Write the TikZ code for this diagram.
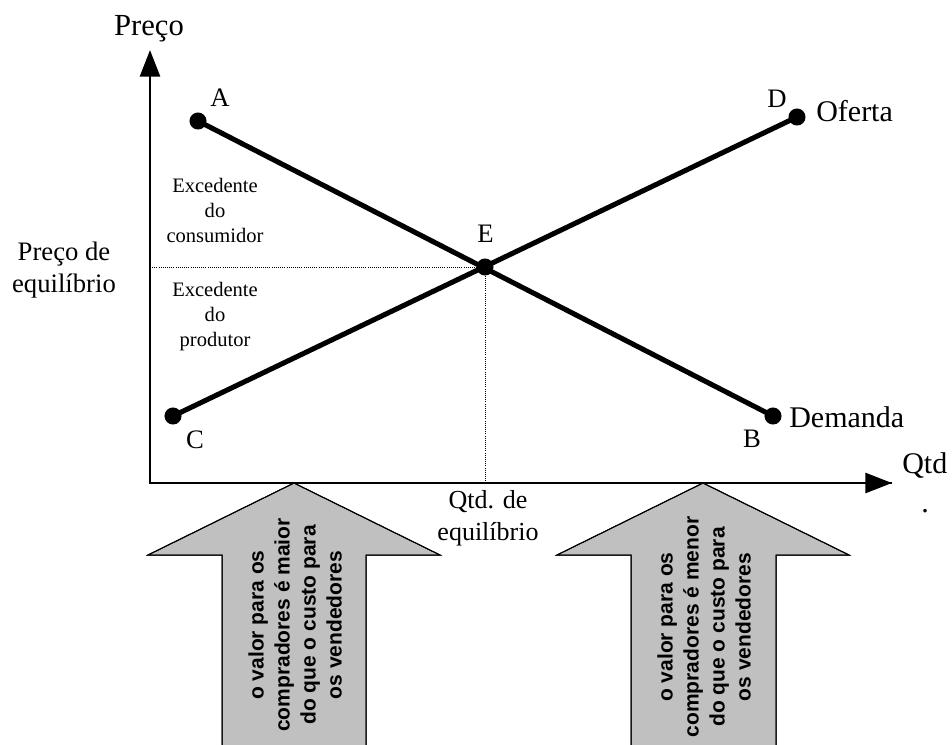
\documentclass[tikz,border=0pt]{standalone}
\usepackage{fontspec}
\setmainfont{Liberation Serif}
\newfontfamily\arrowfont{Liberation Sans}
\usetikzlibrary{arrows.meta}

\begin{document}
\begin{tikzpicture}[x=0.75pt,y=-0.75pt,
  axis/.style={line width=2pt,line join=miter,
    {Triangle[length=20pt,width=15pt]}-{Triangle[length=20pt,width=15pt]}},
  curve/.style={line width=3.8pt},
  guide/.style={line width=0.6pt,densely dotted},
  dot/.style={circle,fill=black,inner sep=0pt,minimum size=12.8pt},
  big/.style={font=\fontsize{22.5}{27}\selectfont,inner sep=0pt},
  letter/.style={font=\fontsize{20}{24}\selectfont,inner sep=0pt,anchor=base},
  axlabel/.style={font=\fontsize{20}{24}\selectfont,inner sep=0pt,align=center},
  surplus/.style={font=\fontsize{15.4}{18.75}\selectfont,inner sep=0pt,align=center},
  hint/.style={fill={rgb,255:red,192;green,192;blue,192},draw=black,line width=0.75pt},
  hinttext/.style={font=\arrowfont\bfseries\fontsize{15.75}{19.5}\selectfont,
    inner sep=0pt,align=center,rotate=90}
]
\path[use as bounding box,fill=white] (0,0) rectangle (952,744);
\clip (0,0) rectangle (952,744);

% axes
\coordinate (O) at (150,483);
\coordinate (ytip) at (150,50);
\coordinate (xtip) at (892,483);
\draw[axis] (ytip) -- (O) -- (xtip);
\node[font=\fontsize{23}{28}\selectfont,inner sep=0pt,anchor=base] (ylab) at (149,35) {Preço};
\node[big,anchor=base west] (xlab) at (902,473) {Qtd};
\node[big,anchor=base] (xdot) at (925,512) {.};

% equilibrium point and guide lines
\coordinate (E) at (485,267);
\coordinate (pe) at (150,267);
\coordinate (qe) at (485,483);
\draw[guide] (pe) -- (E);
\draw[guide] (E) -- (qe);
\node[axlabel] (plab) at (64,270) {Preço de\\equilíbrio};
\node[axlabel,font=\fontsize{19.5}{24}\selectfont] (qlab) at (488,518) {Qtd. de\\equilíbrio};

% demand and supply curves
\node[dot] (A) at (198,121) {};
\node[dot] (B) at (773,416) {};
\node[dot] (C) at (173,416) {};
\node[dot] (D) at (797,117) {};
\draw[curve] (A.center) -- (B.center);
\draw[curve] (C.center) -- (D.center);
\node[dot] (Edot) at (E) {};

\node[letter] (la) at (220,106) {A};
\node[letter] (lb) at (752,447) {B};
\node[letter] (lc) at (195,448) {C};
\node[letter] (ld) at (777,107) {D};
\node[letter] (le) at (485.5,242) {E};
\node[big,anchor=base west] (oferta) at (816,121) {Oferta};
\node[big,anchor=base west] (demanda) at (789,427) {Demanda};

% surplus areas
\node[surplus] (cons) at (215,210) {Excedente\\do\\consumidor};
\node[surplus] (prod) at (215,317) {Excedente\\do\\produtor};

% block arrows under the quantity axis
\coordinate (tipL) at (294,483);
\coordinate (tipR) at (703,483);
\fill[hint] (222,760) -- (222,555) -- (148,555) -- (tipL) -- (440,555) -- (366,555) -- (366,760);
\draw[line width=0.75pt] (222,760) -- (222,555) -- (148,555) -- (tipL) -- (440,555) -- (366,555) -- (366,760);
\fill[hint] (631,760) -- (631,555) -- (557,555) -- (tipR) -- (849,555) -- (776,555) -- (776,760);
\draw[line width=0.75pt] (631,760) -- (631,555) -- (557,555) -- (tipR) -- (849,555) -- (776,555) -- (776,760);
\draw[line width=2pt] (O) -- (xtip);
\node[hinttext] (hintL) at (295,625) {o valor para os\\compradores é maior\\do que o custo para\\os vendedores};
\node[hinttext] (hintR) at (704,627) {o valor para os\\compradores é menor\\do que o custo para\\os vendedores};
\end{tikzpicture}
\end{document}
